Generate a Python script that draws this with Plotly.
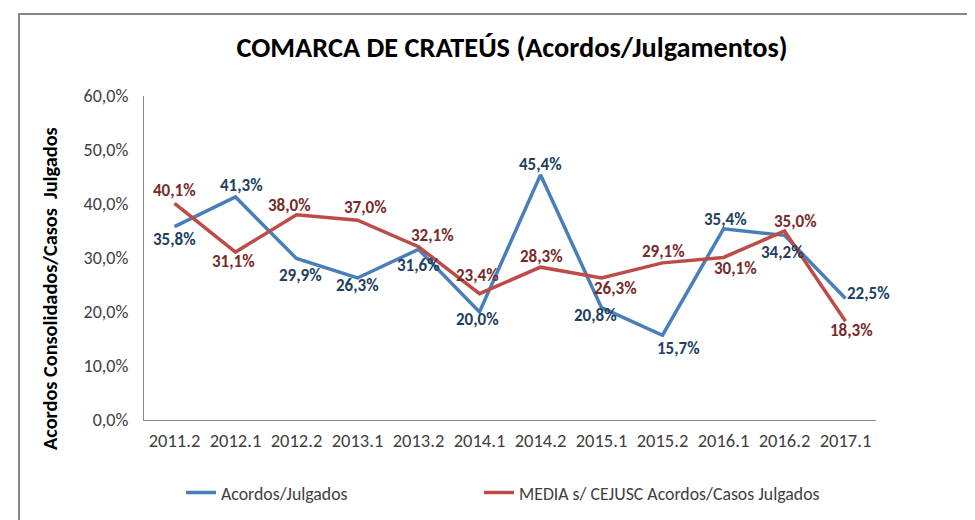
import plotly.graph_objects as go

categories = ["2011.2", "2012.1", "2012.2", "2013.1", "2013.2", "2014.1",
              "2014.2", "2015.1", "2015.2", "2016.1", "2016.2", "2017.1"]
acordos_julgados = [35.8, 41.3, 29.9, 26.3, 31.6, 20.0, 45.4, 20.8, 15.7, 35.4, 34.2, 22.5]
media_cejusc = [40.1, 31.1, 38.0, 37.0, 32.1, 23.4, 28.3, 26.3, 29.1, 30.1, 35.0, 18.3]
y_ticks = [0, 10, 20, 30, 40, 50, 60]

# label offsets in pixels (dx right, dy down) -- styling only
blue_off = [(0, 13), (6, -11), (4, 17), (0, 8), (0, 16), (-2, 7),
            (0, -10), (-6, 8), (16, 13), (2, -9), (-2, 17), (23, -5)]
red_off = [(0, -13), (-2, 9), (-7, -9), (8, -13), (14, -11), (-2, -18),
           (1, -11), (14, 11), (1, -11), (12, 11), (11, -10), (6, 9)]

PCT = chr(37)
FONT = "Carlito, Lato, 'Open Sans', sans-serif"
BLUE = "#4A7EBB"
RED = "#BE4B48"
BLUE_TXT = "#243F60"
RED_TXT = "#772C2A"
AXIS = "#868686"
TXT = "#404040"

OFF = 8  # page body margin
FW, FH = 975 - OFF, 520 - OFF
PL, PT, PR, PB = 144, 96, 876, 420   # plot area in page px
L, T = PL - OFF, PT - OFF
W, H = PR - PL, PB - PT


def px(xp):
    return (xp - PL) / W


def py(yp):
    return (PB - yp) / H


def fmt(v):
    return f"{v:.1f}".replace(".", ",") + PCT


fig = go.Figure()
fig.add_trace(go.Scatter(x=categories, y=acordos_julgados, mode="lines",
                         name="Acordos/Julgados",
                         line=dict(color=BLUE, width=3.5), legend="legend"))
fig.add_trace(go.Scatter(x=categories, y=media_cejusc, mode="lines",
                         name="MEDIA s/ CEJUSC Acordos/Casos Julgados",
                         line=dict(color=RED, width=3.5), legend="legend2"))

annotations = []
for series, offs, col in ((acordos_julgados, blue_off, BLUE_TXT),
                          (media_cejusc, red_off, RED_TXT)):
    for i, (v, (dx, dy)) in enumerate(zip(series, offs)):
        annotations.append(dict(x=i, y=v, xref="x", yref="y", text=fmt(v),
                                showarrow=False, xshift=dx, yshift=-dy,
                                font=dict(family=FONT, size=17, color=col, weight="bold")))

annotations.append(dict(x=px(50), y=py(289), xref="paper", yref="paper",
                        text="Acordos Consolidados/Casos  Julgados", textangle=-90,
                        showarrow=False, xanchor="center", yanchor="middle",
                        font=dict(family=FONT, size=20.3, color="#000000", weight="bold")))

fig.update_layout(
    width=FW, height=FH,
    margin=dict(l=L, r=FW - L - W, t=T, b=FH - T - H, autoexpand=False),
    paper_bgcolor="white", plot_bgcolor="white",
    showlegend=True,
    font=dict(family=FONT, size=18, color=TXT),
    title=dict(text="<b>COMARCA DE CRATEÚS (Acordos/Julgamentos)</b>",
               xref="container", x=(512 - OFF) / FW, xanchor="center",
               yref="container", y=1 - (47 - OFF) / FH, yanchor="middle",
               font=dict(family=FONT, size=28.3, color="#000000")),
    xaxis=dict(type="category", range=[-0.5, len(categories) - 0.5],
               showline=True, linecolor=AXIS, linewidth=1.3, showgrid=False,
               ticks="", ticklabelstandoff=4, tickfont=dict(size=18.5, color=TXT),
               zeroline=False, fixedrange=True),
    yaxis=dict(range=[0, 60], tickvals=y_ticks, ticktext=[fmt(t) for t in y_ticks],
               showline=True, linecolor=AXIS, linewidth=1.3, showgrid=False,
               ticks="", ticklabelstandoff=11, tickfont=dict(size=18, color=TXT),
               zeroline=False, fixedrange=True),
    annotations=annotations,
    legend=dict(x=px(181), y=py(493), xanchor="left", yanchor="middle",
                orientation="h", bgcolor="rgba(0,0,0,0)",
                font=dict(family=FONT, size=17.8, color=TXT)),
    legend2=dict(x=px(479), y=py(493), xanchor="left", yanchor="middle",
                 orientation="h", bgcolor="rgba(0,0,0,0)",
                 font=dict(family=FONT, size=17.8, color=TXT)),
    shapes=[dict(type="rect", xref="paper", yref="paper",
                 x0=px(19), x1=px(1000), y0=py(560), y1=py(14),
                 line=dict(color=AXIS, width=2), fillcolor="rgba(0,0,0,0)",
                 layer="below")],
)

fig.write_html("out.html")
